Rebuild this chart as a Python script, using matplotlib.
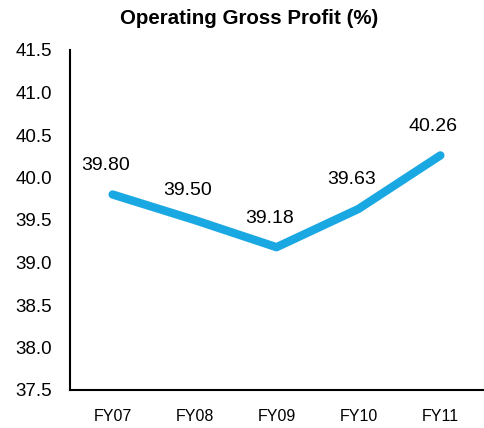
import numpy as np
import matplotlib.pyplot as plt

plt.rcParams['font.family'] = ['Liberation Sans', 'DejaVu Sans']

# data
years = ['FY07', 'FY08', 'FY09', 'FY10', 'FY11']
gross_profit = [39.80, 39.50, 39.18, 39.63, 40.26]
yticks = [37.5, 38.0, 38.5, 39.0, 39.5, 40.0, 40.5, 41.0, 41.5]

fig = plt.figure(figsize=(4.85, 4.28), dpi=100)
ax = fig.add_axes([70/485, 1-390/428, 413/485, 340/428])

x = np.arange(len(years))
ax.plot(x, gross_profit, color='#1AA8E2', lw=6, solid_capstyle='round', solid_joinstyle='round')

for xi, v in zip(x, gross_profit):
    ax.annotate('%.2f' % v, (xi, v), xytext=(-5, 21), textcoords='offset points',
                ha='center', va='center', fontsize=14)

ax.set_xlim(-0.52, 4.52)
ax.set_ylim(37.5, 41.5)
ax.set_yticks(yticks)
ax.set_yticklabels(['%.1f' % t for t in yticks], fontsize=13.5)
ax.set_xticks(x)
ax.set_xticklabels(years, fontsize=11.5)
ax.tick_params(axis='both', length=0)
ax.tick_params(axis='x', pad=14)
ax.tick_params(axis='y', pad=13)

ax.spines['top'].set_visible(False)
ax.spines['right'].set_visible(False)
ax.spines['left'].set_linewidth(1.5)
ax.spines['bottom'].set_linewidth(1.5)

fig.text(249/485, 1-18/428, 'Operating Gross Profit (%)', ha='center', va='center',
         fontsize=14.8, fontweight='bold')

fig.savefig('out.png', dpi=100)
